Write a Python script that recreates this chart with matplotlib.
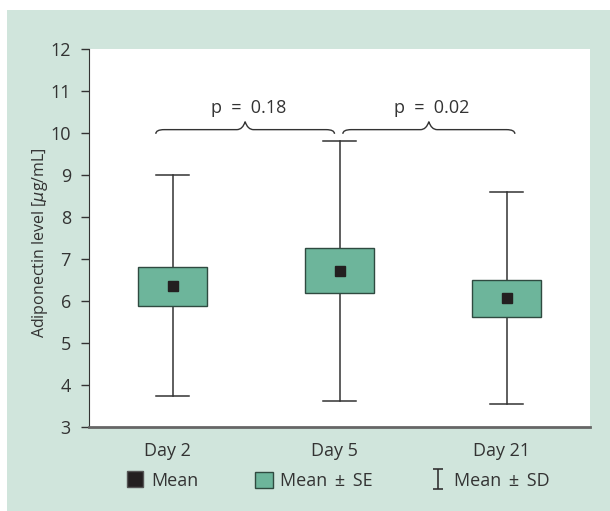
import matplotlib
matplotlib.use("Agg")
import matplotlib.pyplot as plt
import matplotlib.patches as mpatches
import matplotlib.transforms as mtransforms
from matplotlib.lines import Line2D
from matplotlib.path import Path

plt.rcParams['font.family'] = ['Open Sans', 'DejaVu Sans']
plt.rcParams['mathtext.fontset'] = 'dejavusans'

# data
days = ["Day 2", "Day 5", "Day 21"]
mean = [6.36, 6.71, 6.07]
se_low = [5.88, 6.19, 5.62]
se_high = [6.80, 7.26, 6.50]
sd_low = [3.74, 3.62, 3.55]
sd_high = [9.00, 9.80, 8.60]

# brackets between days (start, end, label)
brace_start = [0.90, 2.02]
brace_end = [1.97, 3.05]
brace_text = ["p  =  0.18", "p  =  0.02"]

panel_col = "#d0e5dc"
box_col = "#6db59b"
edge_col = "#2f4a40"
line_col = "#333333"
fs = 13

fig = plt.figure(figsize=(6.10, 5.11), dpi=100)
fig.patches.append(mpatches.Rectangle((7 / 610, 0), 1, 1 - 10 / 511,
                                      transform=fig.transFigure,
                                      facecolor=panel_col, edgecolor="none", zorder=-5))
ax = fig.add_axes([89 / 610, 1 - 427 / 511, 501 / 610, 378 / 511])
ax.set_facecolor("white")

xs = [1, 2, 3]
box_w = 0.41
cap_w = 0.20
for x, m, lo, hi, sl, sh in zip(xs, mean, se_low, se_high, sd_low, sd_high):
    ax.plot([x, x], [sl, lo], color=line_col, lw=1.1, zorder=2)
    ax.plot([x, x], [hi, sh], color=line_col, lw=1.1, zorder=2)
    ax.plot([x - cap_w / 2, x + cap_w / 2], [sl, sl], color=line_col, lw=1.1, zorder=2)
    ax.plot([x - cap_w / 2, x + cap_w / 2], [sh, sh], color=line_col, lw=1.1, zorder=2)
    ax.add_patch(mpatches.Rectangle((x - box_w / 2, lo), box_w, hi - lo,
                                    facecolor=box_col, edgecolor=edge_col, lw=1.0, zorder=3))
    ax.plot(x, m, marker="s", ms=7.5, color="#231f20", zorder=4)


def brace(x0, x1, y0=10.08, h=0.10, t=0.19, r=0.05):
    xm = (x0 + x1) / 2
    verts = [(x0, y0 - h), (x0, y0), (x0 + r, y0),
             (xm - r, y0), (xm - r * 0.3, y0), (xm, y0 + t),
             (xm + r * 0.3, y0), (xm + r, y0),
             (x1 - r, y0), (x1, y0), (x1, y0 - h)]
    codes = [Path.MOVETO, Path.CURVE3, Path.CURVE3,
             Path.LINETO, Path.CURVE3, Path.CURVE3,
             Path.CURVE3, Path.CURVE3,
             Path.LINETO, Path.CURVE3, Path.CURVE3]
    ax.add_patch(mpatches.PathPatch(Path(verts, codes), facecolor="none",
                                    edgecolor=line_col, lw=1.0, zorder=2))
    return xm


for b0, b1, txt in zip(brace_start, brace_end, brace_text):
    xm = brace(b0, b1)
    ax.text(xm + 0.02, 10.6, txt, ha="center", va="center", fontsize=fs, color="#333333")

ax.set_xlim(0.5, 3.5)
ax.set_ylim(3, 12)
ax.set_yticks(range(3, 13))
ax.set_xticks(xs)
ax.set_xticklabels(days)
ax.tick_params(axis="y", direction="out", length=6, width=1, color=line_col, pad=7,
               labelsize=fs, labelcolor="#333333")
ax.tick_params(axis="x", length=0, pad=11, labelsize=fs, labelcolor="#333333")
# labels sit a bit left of the boxes in the original
shift = mtransforms.ScaledTranslation(-5 / 100, 0, fig.dpi_scale_trans)
for lab in ax.get_xticklabels():
    lab.set_transform(lab.get_transform() + shift)
for s in ["top", "right"]:
    ax.spines[s].set_visible(False)
ax.spines["left"].set_color(line_col)
ax.spines["bottom"].set_color("#666666")
ax.spines["bottom"].set_linewidth(2)
ax.set_ylabel("Adiponectin level [$\\mu$g/mL]", fontsize=11.5, color="#333333")
ax.yaxis.set_label_coords(-0.078, 0.489)

sd_marker = Path([(-0.5, 1), (0.5, 1), (0, 1), (0, -1), (-0.5, -1), (0.5, -1)],
                 [Path.MOVETO, Path.LINETO, Path.MOVETO, Path.LINETO, Path.MOVETO, Path.LINETO])
handles = [
    Line2D([], [], marker="s", ls="none", ms=12, color="#231f20", mec="#555555"),
    mpatches.Patch(facecolor=box_col, edgecolor=edge_col, lw=1.0),
    Line2D([], [], marker=sd_marker, ls="none", ms=14, color=line_col, mfc="none", mew=1.2),
]
labels = ["Mean", "Mean \u2009\u00b1\u2009 SE", "Mean \u2009\u00b1\u2009 SD"]
fig.legend(handles, labels, loc="center", bbox_to_anchor=(338 / 610, 1 - 481 / 511),
           ncol=3, frameon=False, fontsize=fs, handlelength=1.0, handleheight=1.0,
           handletextpad=0.4, columnspacing=3.1, labelcolor="#333333")

fig.savefig("out.png", dpi=100)
